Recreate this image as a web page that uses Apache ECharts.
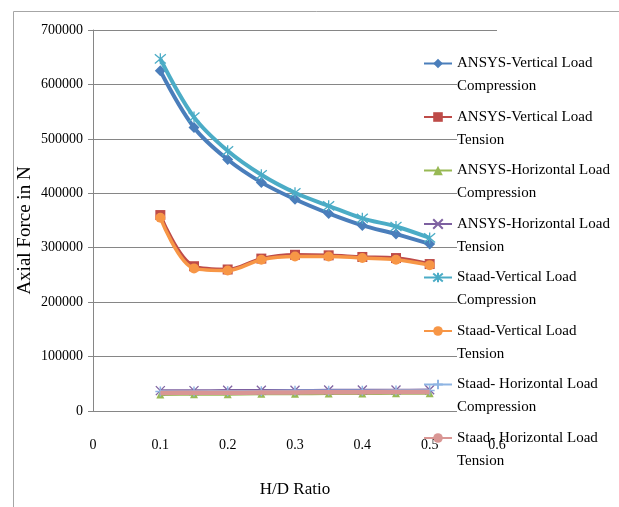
<!DOCTYPE html>
<html>
<head>
<meta charset="utf-8">
<script src="https://cdn.jsdelivr.net/npm/echarts@6/dist/echarts.min.js"></script>
<style>
html,body{margin:0;padding:0;background:#fff;}
#chart{width:619px;height:507px;}
</style>
</head>
<body>
<div id="chart"></div>
<script>
// ---- data ----
const hdRatio = [0.1, 0.15, 0.2, 0.25, 0.3, 0.35, 0.4, 0.45, 0.5];
const ansysVertComp = [625000, 521000, 462000, 420000, 389000, 363000, 341000, 325000, 307000];
const ansysVertTens = [360000, 266000, 260000, 280000, 287000, 286000, 283000, 281000, 270000];
const ansysHorzComp = [30500, 31000, 31000, 31500, 31500, 32000, 32000, 32500, 32500];
const ansysHorzTens = [37500, 37500, 38000, 38000, 38000, 38500, 38500, 38500, 39000];
const staadVertComp = [647000, 540000, 478000, 434000, 401000, 377000, 354000, 339000, 318000];
const staadVertTens = [355000, 262000, 258000, 278000, 284000, 284000, 281000, 278000, 268000];
const staadHorzComp = [36000, 36000, 36500, 36500, 37000, 37000, 37000, 37500, 37500];
const staadHorzTens = [33000, 33500, 33500, 34000, 34000, 34500, 34500, 35000, 35000];

const seriesNames = [
  ['ANSYS-Vertical Load', 'Compression'],
  ['ANSYS-Vertical Load', 'Tension'],
  ['ANSYS-Horizontal Load', 'Compression'],
  ['ANSYS-Horizontal Load', 'Tension'],
  ['Staad-Vertical Load', 'Compression'],
  ['Staad-Vertical Load', 'Tension'],
  ['Staad- Horizontal Load', 'Compression'],
  ['Staad- Horizontal Load', 'Tension']
];
const xTicks = [0, 0.1, 0.2, 0.3, 0.4, 0.5, 0.6];
const yTicks = [0, 100000, 200000, 300000, 400000, 500000, 600000, 700000];

const FONT = '"Liberation Serif", "Times New Roman", serif';
const fullName = i => seriesNames[i][0] + ' ' + seriesNames[i][1];
const pair = d => hdRatio.map((x, i) => [x, d[i]]);

function mk(i, data, color, symbol, size, width, opts) {
  opts = opts || {};
  return {
    name: fullName(i),
    type: 'line',
    data: pair(data),
    smooth: 0.35,
    symbol: symbol,
    symbolSize: size,
    showSymbol: symbol !== 'none',
    lineStyle: { color: opts.lineColor || color, width: width },
    itemStyle: opts.itemStyle || { color: color, borderColor: color, borderWidth: 0 },
    emphasis: { disabled: true },
    animation: false,
    z: 2 + i * 0.01
  };
}
const starPath = 'path://M0,0L10,10M10,0L0,10M5,-1L5,11';
const xPath = 'path://M0,0L10,10M10,0L0,10';
const plusPath = 'path://M5,0L5,10M0,5L10,5';

const series = [
  mk(0, ansysVertComp, '#4A7EBB', 'diamond', 11, 4),
  mk(1, ansysVertTens, '#BE4B48', 'rect', 10, 3.5),
  mk(2, ansysHorzComp, '#98B954', 'triangle', 8, 3),
  mk(3, ansysHorzTens, '#7D60A0', xPath, 9, 2.5, { itemStyle: { color: 'rgba(0,0,0,0)', borderColor: '#8064A2', borderWidth: 1.3 } }),
  mk(4, staadVertComp, '#4BACC6', starPath, 11, 4, { itemStyle: { color: 'rgba(0,0,0,0)', borderColor: '#4BACC6', borderWidth: 1.3 } }),
  mk(5, staadVertTens, '#F79646', 'circle', 10, 3.5),
  mk(6, staadHorzComp, '#8EB4E3', plusPath, 10, 2.5, { itemStyle: { color: 'rgba(0,0,0,0)', borderColor: '#8EB4E3', borderWidth: 1.5 } }),
  mk(7, staadHorzTens, '#D99694', 'none', 0, 4.5)
];

const nameMap = {};
seriesNames.forEach((p, i) => { nameMap[fullName(i)] = i; });

const chart = echarts.init(document.getElementById('chart'), null, { renderer: 'canvas' });
chart.setOption({
  backgroundColor: '#fff',
  animation: false,
  graphic: [{
    type: 'rect', left: 11, top: 9, silent: true, z: -10,
    shape: { width: 700, height: 600 },
    style: { fill: 'none', stroke: '#A6A6A6', lineWidth: 1 }
  }],
  grid: { left: 93, top: 30, right: 122, bottom: 96, containLabel: false },
  xAxis: {
    type: 'value', min: 0, max: 0.6, interval: 0.1,
    name: 'H/D Ratio', nameLocation: 'middle', nameGap: 70,
    nameMoveOverlap: false,
    nameTextStyle: { fontFamily: FONT, fontSize: 17, color: '#000' },
    axisLine: { show: true, lineStyle: { color: '#868686', width: 1 } },
    axisTick: { show: false },
    splitLine: { show: false },
    axisLabel: { margin: 27, fontFamily: FONT, fontSize: 14, color: '#000',
      formatter: v => { const t = xTicks.find(x => Math.abs(x - v) < 1e-9); return t === undefined ? '' : String(t); } }
  },
  yAxis: {
    type: 'value', min: 0, max: 700000, interval: 100000,
    name: 'Axial Force in N', nameLocation: 'middle', nameGap: 58,
    nameMoveOverlap: false,
    nameTextStyle: { fontFamily: FONT, fontSize: 19, color: '#000', padding: [0, 0, 0, -20] },
    axisLine: { show: true, lineStyle: { color: '#868686', width: 1 } },
    axisTick: { show: true, inside: false, length: 5, lineStyle: { color: '#868686' } },
    splitLine: { show: true, lineStyle: { color: '#868686', width: 1 } },
    axisLabel: { margin: 10, fontFamily: FONT, fontSize: 14, color: '#000',
      formatter: v => { const t = yTicks.find(y => y === v); return t === undefined ? '' : String(t); } }
  },
  legend: {
    orient: 'vertical', left: 418, top: 24,
    itemWidth: 28, itemHeight: 12, itemGap: -11.5,
    padding: 5,
    data: seriesNames.map((p, i) => fullName(i)),
    formatter: function (name) {
      const i = nameMap[name];
      const st = i === 7 ? 'n' : 't';
      return '{e| }\n{' + st + '|' + seriesNames[i][0] + '}\n{' + st + '|' + seriesNames[i][1] + '}';
    },
    textStyle: {
      fontFamily: FONT, fontSize: 15, color: '#000',
      rich: {
        e: { fontFamily: FONT, fontSize: 15, lineHeight: 23, height: 23 },
        t: { fontFamily: FONT, fontSize: 15, lineHeight: 23, color: '#000', backgroundColor: '#fff' },
        n: { fontFamily: FONT, fontSize: 15, lineHeight: 23, color: '#000' }
      }
    },
    z: 10
  },
  series: series
});
</script>
</body>
</html>
